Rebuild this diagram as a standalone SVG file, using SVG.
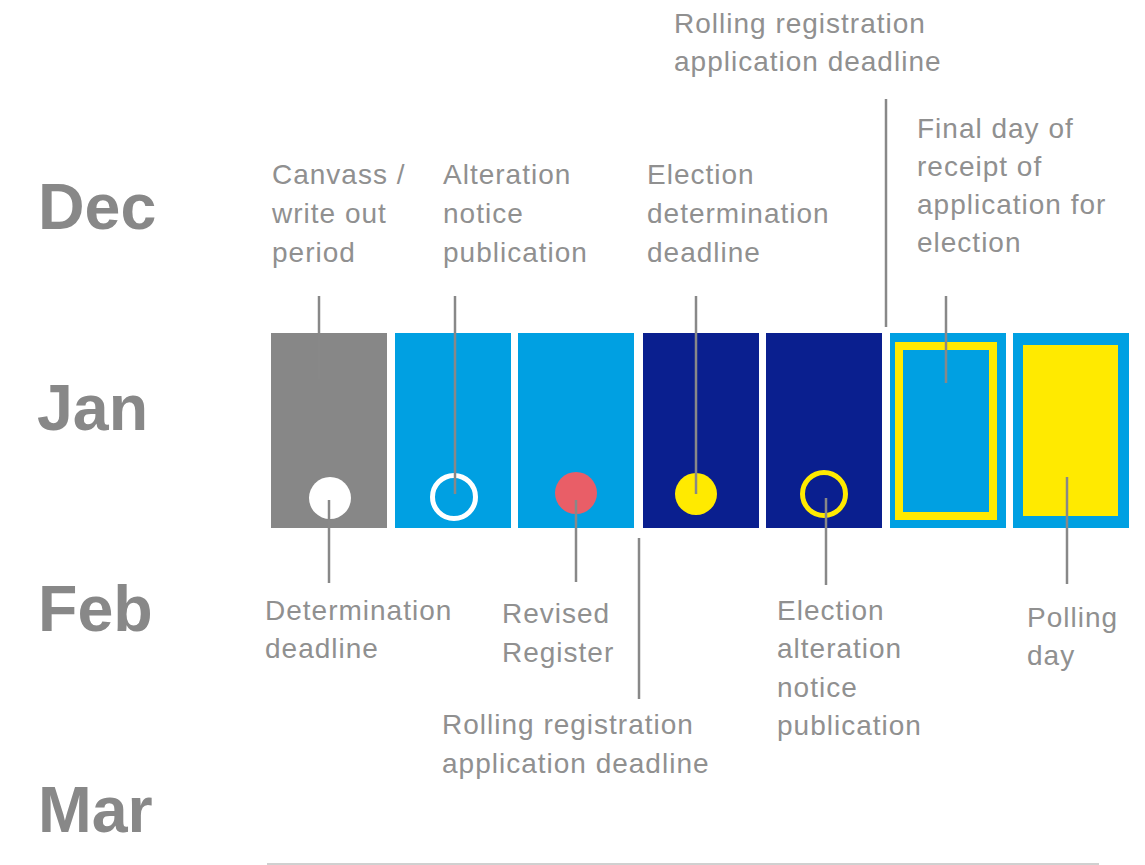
<svg xmlns="http://www.w3.org/2000/svg" width="1145" height="865" viewBox="0 0 1145 865">
<style>
.month{font-family:"Liberation Sans",Arial,sans-serif;font-weight:bold;font-size:64.5px;fill:#888888}
.lbl{font-family:"Liberation Sans",Arial,sans-serif;font-size:28px;letter-spacing:1px;fill:#909090}
.lead{stroke:#888888;stroke-width:2.5;fill:none}
.grey{fill:#878787}
.light{fill:#00a0e2}
.dark{fill:#0a1f8f}
</style>
<rect width="1145" height="865" fill="#ffffff"/>
<g id="months">
<text class="month" x="38" y="229">Dec</text>
<text class="month" x="37" y="430">Jan</text>
<text class="month" x="38" y="631">Feb</text>
<text class="month" x="38" y="832">Mar</text>
</g>
<g id="box1"><rect class="grey" x="271" y="333" width="116" height="195"/><circle cx="330" cy="498" r="21" fill="#ffffff"/></g>
<g id="box2"><rect class="light" x="395" y="333" width="116" height="195"/><circle cx="454" cy="497" r="21.5" fill="none" stroke="#ffffff" stroke-width="5"/></g>
<g id="box3"><rect class="light" x="518" y="333" width="116" height="195"/><circle cx="576" cy="493" r="21" fill="#e95e67"/></g>
<g id="box4"><rect class="dark" x="643" y="333" width="116" height="195"/><circle cx="696" cy="494" r="21" fill="#ffea00"/></g>
<g id="box5"><rect class="dark" x="766" y="333" width="116" height="195"/><circle cx="824" cy="494" r="21.5" fill="none" stroke="#ffea00" stroke-width="5"/></g>
<g id="box6"><rect class="light" x="890" y="333" width="116" height="195"/><rect x="899" y="346" width="94" height="170" fill="none" stroke="#ffea00" stroke-width="8"/></g>
<g id="box7"><rect class="light" x="1013" y="333" width="116" height="195"/><rect x="1023" y="345" width="95" height="171" fill="#ffea00"/></g>
<g id="connectors">
<line class="lead" x1="319" y1="296" x2="319" y2="379"/>
<line class="lead" x1="455" y1="296" x2="455" y2="494"/>
<line class="lead" x1="696" y1="296" x2="696" y2="494"/>
<line class="lead" x1="886" y1="99" x2="886" y2="327"/>
<line class="lead" x1="946" y1="296" x2="946" y2="383"/>
<line class="lead" x1="329" y1="500" x2="329" y2="583"/>
<line class="lead" x1="576" y1="500" x2="576" y2="582"/>
<line class="lead" x1="639" y1="538" x2="639" y2="699"/>
<line class="lead" x1="826" y1="498" x2="826" y2="585"/>
<line class="lead" x1="1067" y1="477" x2="1067" y2="584"/>
<line x1="267" y1="864" x2="1099" y2="864" stroke="#c0c0c0" stroke-width="1.5"/>
</g>
<g id="label-canvass"><text class="lbl" x="272" y="184">Canvass /</text><text class="lbl" x="272" y="223">write out</text><text class="lbl" x="272" y="262">period</text></g>
<g id="label-alteration"><text class="lbl" x="443" y="184">Alteration</text><text class="lbl" x="443" y="223">notice</text><text class="lbl" x="443" y="262">publication</text></g>
<g id="label-election-det"><text class="lbl" x="647" y="184">Election</text><text class="lbl" x="647" y="223">determination</text><text class="lbl" x="647" y="262">deadline</text></g>
<g id="label-rolling-top"><text class="lbl" x="674" y="33">Rolling registration</text><text class="lbl" x="674" y="71">application deadline</text></g>
<g id="label-final"><text class="lbl" x="917" y="138">Final day of</text><text class="lbl" x="917" y="176">receipt of</text><text class="lbl" x="917" y="214">application for</text><text class="lbl" x="917" y="252">election</text></g>
<g id="label-determination"><text class="lbl" x="265" y="620">Determination</text><text class="lbl" x="265" y="658">deadline</text></g>
<g id="label-revised"><text class="lbl" x="502" y="623">Revised</text><text class="lbl" x="502" y="662">Register</text></g>
<g id="label-rolling-bottom"><text class="lbl" x="442" y="734">Rolling registration</text><text class="lbl" x="442" y="773">application deadline</text></g>
<g id="label-election-alt"><text class="lbl" x="777" y="620">Election</text><text class="lbl" x="777" y="658">alteration</text><text class="lbl" x="777" y="697">notice</text><text class="lbl" x="777" y="735">publication</text></g>
<g id="label-polling"><text class="lbl" x="1027" y="627">Polling</text><text class="lbl" x="1027" y="665">day</text></g>
</svg>
